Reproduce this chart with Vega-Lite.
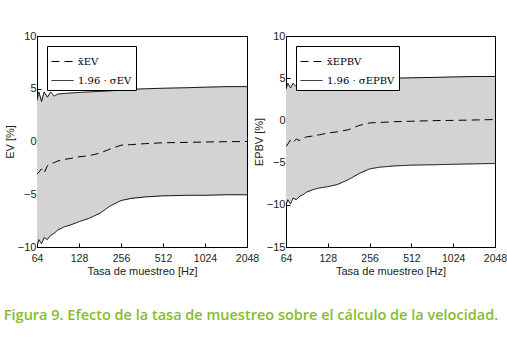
{
  "$schema": "https://vega.github.io/schema/vega-lite/v6.json",
  "padding": {"left": 3, "top": 29, "right": 5, "bottom": 5},
  "background": "white",
  "bounds": "flush",
  "spacing": 39,
  "title": {
    "text": "Figura 9. Efecto de la tasa de muestreo sobre el cálculo de la velocidad.",
    "orient": "bottom",
    "anchor": "start",
    "font": "Open Sans",
    "fontWeight": 600,
    "fontSize": 14.5,
    "color": "#86bc2e",
    "offset": 32
  },
  "config": {
    "font": "Liberation Sans",
    "view": {"stroke": "black", "strokeWidth": 1},
    "axis": {
      "grid": false,
      "labelFontSize": 11,
      "titleFontSize": 11,
      "titleFontWeight": "normal",
      "labelColor": "#222",
      "titleColor": "#222",
      "domainColor": "black",
      "tickColor": "black",
      "tickSize": -4,
      "labelPadding": 5,
      "labelFlush": false,
      "labelOverlap": false,
      "labelBound": false
    },
    "axisY": {"titlePadding": 2},
    "axisX": {"labelPadding": 10, "titlePadding": 2, "labelFontSize": 10.5},
    "legend": {
      "orient": "top-left",
      "offset": 10,
      "strokeColor": "black",
      "fillColor": "white",
      "padding": 4,
      "symbolType": "stroke",
      "symbolStrokeColor": "black",
      "symbolStrokeWidth": 1,
      "symbolSize": 484,
      "labelFont": "DejaVu Serif",
      "labelFontSize": 10,
      "labelColor": "black",
      "rowPadding": 2
    }
  },
  "datasets": {
    "ev": [
      {"f": 64, "lo": -9.9, "mean": -3.1, "hi": 3.9},
      {"f": 66, "lo": -9.3, "mean": -2.9, "hi": 4.7},
      {"f": 69, "lo": -9.7, "mean": -2.6, "hi": 3.8},
      {"f": 72, "lo": -9.1, "mean": -3.0, "hi": 4.7},
      {"f": 76, "lo": -9.3, "mean": -2.3, "hi": 4.2},
      {"f": 80, "lo": -8.9, "mean": -2.1, "hi": 4.7},
      {"f": 85, "lo": -8.7, "mean": -2.0, "hi": 4.3},
      {"f": 90, "lo": -8.4, "mean": -1.85, "hi": 4.5},
      {"f": 100, "lo": -8.1, "mean": -1.7, "hi": 4.55},
      {"f": 112, "lo": -7.9, "mean": -1.6, "hi": 4.6},
      {"f": 128, "lo": -7.6, "mean": -1.45, "hi": 4.65},
      {"f": 150, "lo": -7.3, "mean": -1.35, "hi": 4.7},
      {"f": 181, "lo": -6.8, "mean": -1.1, "hi": 4.75},
      {"f": 215, "lo": -6.1, "mean": -0.7, "hi": 4.8},
      {"f": 256, "lo": -5.6, "mean": -0.35, "hi": 4.9},
      {"f": 300, "lo": -5.4, "mean": -0.3, "hi": 4.95},
      {"f": 384, "lo": -5.25, "mean": -0.2, "hi": 5.0},
      {"f": 512, "lo": -5.15, "mean": -0.12, "hi": 5.05},
      {"f": 768, "lo": -5.1, "mean": -0.08, "hi": 5.1},
      {"f": 1024, "lo": -5.1, "mean": -0.05, "hi": 5.15},
      {"f": 1448, "lo": -5.05, "mean": -0.02, "hi": 5.2},
      {"f": 2048, "lo": -5.05, "mean": 0.0, "hi": 5.2}
    ],
    "epbv": [
      {"f": 64, "lo": -10.0, "mean": -3.1, "hi": 3.7},
      {"f": 66, "lo": -9.4, "mean": -2.8, "hi": 4.4},
      {"f": 69, "lo": -9.9, "mean": -2.3, "hi": 3.85},
      {"f": 72, "lo": -9.2, "mean": -2.6, "hi": 4.4},
      {"f": 76, "lo": -9.4, "mean": -2.2, "hi": 4.0},
      {"f": 80, "lo": -9.0, "mean": -2.4, "hi": 4.4},
      {"f": 85, "lo": -8.8, "mean": -2.1, "hi": 4.1},
      {"f": 90, "lo": -8.5, "mean": -1.95, "hi": 4.3},
      {"f": 100, "lo": -8.2, "mean": -1.85, "hi": 4.4},
      {"f": 112, "lo": -8.0, "mean": -1.7, "hi": 4.45},
      {"f": 128, "lo": -7.85, "mean": -1.5, "hi": 4.5},
      {"f": 150, "lo": -7.6, "mean": -1.35, "hi": 4.55},
      {"f": 181, "lo": -7.0, "mean": -1.1, "hi": 4.65},
      {"f": 215, "lo": -6.3, "mean": -0.6, "hi": 4.75},
      {"f": 256, "lo": -5.75, "mean": -0.3, "hi": 4.85},
      {"f": 300, "lo": -5.55, "mean": -0.25, "hi": 4.9},
      {"f": 384, "lo": -5.4, "mean": -0.15, "hi": 5.0},
      {"f": 512, "lo": -5.3, "mean": -0.1, "hi": 5.05},
      {"f": 768, "lo": -5.25, "mean": -0.02, "hi": 5.1},
      {"f": 1024, "lo": -5.2, "mean": 0.0, "hi": 5.15},
      {"f": 1448, "lo": -5.15, "mean": 0.05, "hi": 5.2},
      {"f": 2048, "lo": -5.1, "mean": 0.1, "hi": 5.2}
    ]
  },
  "resolve": {"scale": {"strokeDash": "independent", "y": "independent"}, "legend": {"strokeDash": "independent"}},
  "hconcat": [
    {
      "width": 210,
      "height": 211,
      "data": {"name": "ev"},
      "layer": [
        {
          "mark": {"type": "area", "color": "#d3d3d3", "clip": true},
          "encoding": {
            "x": {"field": "f", "type": "quantitative", "scale": {"type": "log", "base": 2, "domain": [64, 2048], "nice": false}, "axis": {"values": [64, 128, 256, 512, 1024, 2048], "format": "d", "title": "Tasa de muestreo [Hz]"}},
            "y": {"field": "lo", "type": "quantitative", "scale": {"domain": [-10, 10], "nice": false}, "axis": {"values": [-10, -5, 0, 5, 10], "title": "EV [%]"}},
            "y2": {"field": "hi"}
          }
        },
        {
          "transform": [{"fold": ["mean", "hi", "lo"], "as": ["k", "v"]}],
          "mark": {"type": "line", "color": "black", "strokeWidth": 1, "clip": true},
          "encoding": {
            "x": {"field": "f", "type": "quantitative"},
            "y": {"field": "v", "type": "quantitative"},
            "detail": {"field": "k"},
            "strokeDash": {
              "field": "k",
              "type": "nominal",
              "scale": {"domain": ["mean", "hi", "lo"], "range": [[8, 5], [1, 0], [1, 0]]},
              "legend": {"title": null, "values": ["mean", "hi"], "labelExpr": "datum.value == 'mean' ? 'x̄EV' : '1.96 · σEV'"}
            }
          }
        }
      ]
    },
    {
      "width": 209,
      "height": 211,
      "data": {"name": "epbv"},
      "layer": [
        {
          "mark": {"type": "area", "color": "#d3d3d3", "clip": true},
          "encoding": {
            "x": {"field": "f", "type": "quantitative", "scale": {"type": "log", "base": 2, "domain": [64, 2048], "nice": false}, "axis": {"values": [64, 128, 256, 512, 1024, 2048], "format": "d", "title": "Tasa de muestreo [Hz]"}},
            "y": {"field": "lo", "type": "quantitative", "scale": {"domain": [-15, 10], "nice": false}, "axis": {"values": [-15, -10, -5, 0, 5, 10], "title": "EPBV [%]"}},
            "y2": {"field": "hi"}
          }
        },
        {
          "transform": [{"fold": ["mean", "hi", "lo"], "as": ["k", "v"]}],
          "mark": {"type": "line", "color": "black", "strokeWidth": 1, "clip": true},
          "encoding": {
            "x": {"field": "f", "type": "quantitative"},
            "y": {"field": "v", "type": "quantitative"},
            "detail": {"field": "k"},
            "strokeDash": {
              "field": "k",
              "type": "nominal",
              "scale": {"domain": ["mean", "hi", "lo"], "range": [[8, 5], [1, 0], [1, 0]]},
              "legend": {"title": null, "values": ["mean", "hi"], "labelExpr": "datum.value == 'mean' ? 'x̄EPBV' : '1.96 · σEPBV'"}
            }
          }
        }
      ]
    }
  ]
}
